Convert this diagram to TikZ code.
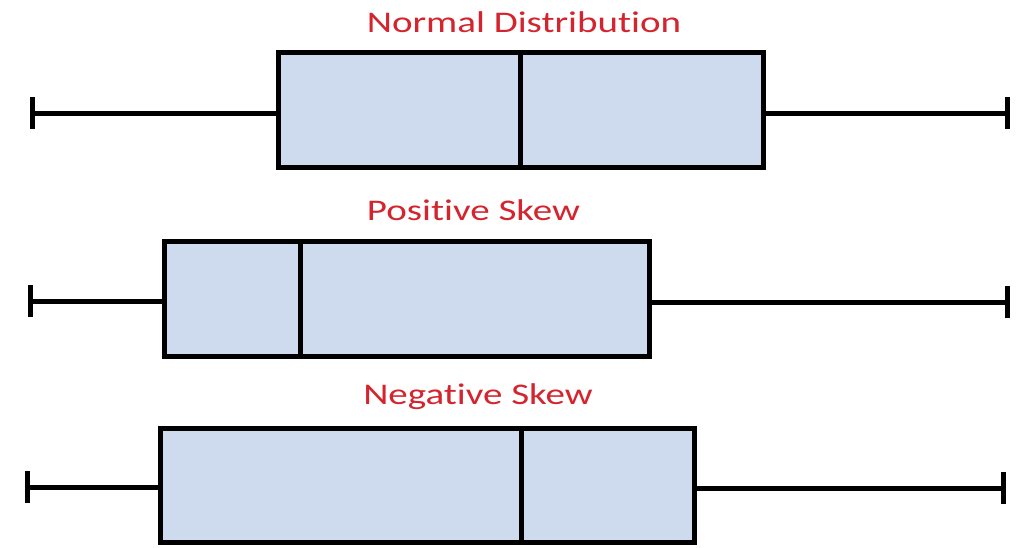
\documentclass[tikz,border=0pt]{standalone}
\usepackage{fontspec}
\setmainfont{Carlito}[Ligatures={NoCommon}]
\begin{document}
\begin{tikzpicture}[x=1pt,y=-1pt,
  boxplot/.style={draw=black,line width=5pt,fill=boxblue,inner sep=0pt,
    outer sep=0pt,minimum height=115pt},
  whisker/.style={line width=5pt,draw=black},
  captick/.style={line width=5pt,draw=black},
  title/.style={text=titlered,font=\fontsize{30}{36}\selectfont,anchor=base}]
\definecolor{boxblue}{RGB}{206,219,239}
\definecolor{titlered}{RGB}{212,36,46}
\useasboundingbox (0,0) rectangle (1020,547);
\fill[white] (0,0) rectangle (1020,547);

% Normal distribution
\node[title] (t1) at (524,32) {\scalebox{1.3}[1]{Normal Distribution}};
\node[boxplot,minimum width=485pt] (b1) at (521,110) {};
\draw[whisker] (b1.north west) ++(241.5,0) coordinate (m1a) -- ++(0,115) coordinate (m1b);
\coordinate (l1) at (32,113);
\coordinate (r1) at (1007,113);
\draw[whisker] (b1.west |- l1) -- (l1);
\draw[whisker] (b1.east |- r1) -- (r1);
\draw[captick] ([yshift=-16pt]l1) -- ([yshift=16pt]l1);
\draw[captick] ([yshift=-16pt]r1) -- ([yshift=16pt]r1);

% Positive skew
\node[title] (t2) at (473.5,220) {\scalebox{1.3}[1]{Positive Skew}};
\node[boxplot,minimum width=485pt] (b2) at (407,299) {};
\draw[whisker] (b2.north west) ++(136,0) coordinate (m2a) -- ++(0,115) coordinate (m2b);
\coordinate (l2) at (30,301);
\coordinate (r2) at (1007,302);
\draw[whisker] (b2.west |- l2) -- (l2);
\draw[whisker] (b2.east |- r2) -- (r2);
\draw[captick] ([yshift=-16pt]l2) -- ([yshift=16pt]l2);
\draw[captick] ([yshift=-16pt]r2) -- ([yshift=16pt]r2);

% Negative skew
\node[title] (t3) at (478,404) {\scalebox{1.3}[1]{Negative Skew}};
\node[boxplot,minimum width=534pt,minimum height=114pt] (b3) at (427.5,485.5) {};
\draw[whisker] (b3.north west) ++(360.5,0) coordinate (m3a) -- ++(0,114) coordinate (m3b);
\coordinate (l3) at (27,487);
\coordinate (r3) at (1003,488);
\draw[whisker] (b3.west |- l3) -- (l3);
\draw[whisker] (b3.east |- r3) -- (r3);
\draw[captick] ([yshift=-16pt]l3) -- ([yshift=16pt]l3);
\draw[captick] ([yshift=-16pt]r3) -- ([yshift=16pt]r3);
\end{tikzpicture}
\end{document}
